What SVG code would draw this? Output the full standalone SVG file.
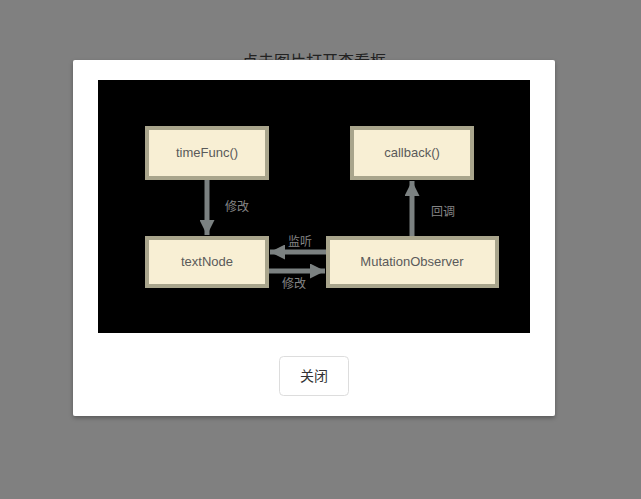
<svg xmlns="http://www.w3.org/2000/svg" width="641" height="499" viewBox="0 0 641 499">
<defs>
<style>
.node rect{fill:#f8efd4;stroke:#a9a58c;stroke-width:4}
.node text{font-family:"Liberation Sans",Arial,sans-serif;font-size:13px;fill:#5a5a5a;text-anchor:middle}
.edge{stroke:#7b8181;stroke-width:5;fill:none}
.lbl{font-family:"Noto Sans CJK SC",sans-serif;font-size:12px;fill:#858585}
</style>
<marker id="ah" viewBox="0 0 10 10" refX="10" refY="5" markerWidth="3.2" markerHeight="3" orient="auto" markerUnits="strokeWidth">
<path d="M0,0 L10,5 L0,10 z" fill="#7b8181"/>
</marker>
<filter id="sh" x="-10%" y="-10%" width="120%" height="120%">
<feDropShadow dx="0" dy="2" stdDeviation="2" flood-color="#000" flood-opacity="0.3"/>
</filter>
</defs>
<rect width="641" height="499" fill="#808080"/>
<text x="314" y="67" text-anchor="middle" font-family="Noto Sans CJK SC,sans-serif" font-size="16" fill="#222">点击图片打开查看框</text>
<rect x="73" y="60" width="482" height="356" rx="2" fill="#fff" filter="url(#sh)"/>
<rect x="98" y="80" width="432" height="253" fill="#000"/>
<g id="connectors">
<line class="edge" x1="207" y1="180" x2="207" y2="235" marker-end="url(#ah)"/>
<line class="edge" x1="412" y1="236" x2="412" y2="181" marker-end="url(#ah)"/>
<line class="edge" x1="326" y1="252" x2="270" y2="252" marker-end="url(#ah)"/>
<line class="edge" x1="269" y1="271" x2="325" y2="271" marker-end="url(#ah)"/>
<text class="lbl" x="225" y="211">修改</text>
<text class="lbl" x="431" y="216">回调</text>
<text class="lbl" x="288" y="246">监听</text>
<text class="lbl" x="282" y="288">修改</text>
</g>
<g id="timeFunc" class="node"><rect x="147" y="128" width="120" height="50"/><text x="207" y="157">timeFunc()</text></g>
<g id="callback" class="node"><rect x="352" y="128" width="120" height="50"/><text x="412" y="157">callback()</text></g>
<g id="textNode" class="node"><rect x="147" y="238" width="120" height="48"/><text x="207" y="266">textNode</text></g>
<g id="MutationObserver" class="node"><rect x="328" y="238" width="169" height="48"/><text x="412" y="266">MutationObserver</text></g>
<g id="close">
<rect x="279.5" y="356.5" width="69" height="39" rx="4" fill="#fff" stroke="#ddd"/>
<text x="314" y="381" text-anchor="middle" font-family="Noto Sans CJK SC,sans-serif" font-size="14" fill="#333">关闭</text>
</g>
</svg>
